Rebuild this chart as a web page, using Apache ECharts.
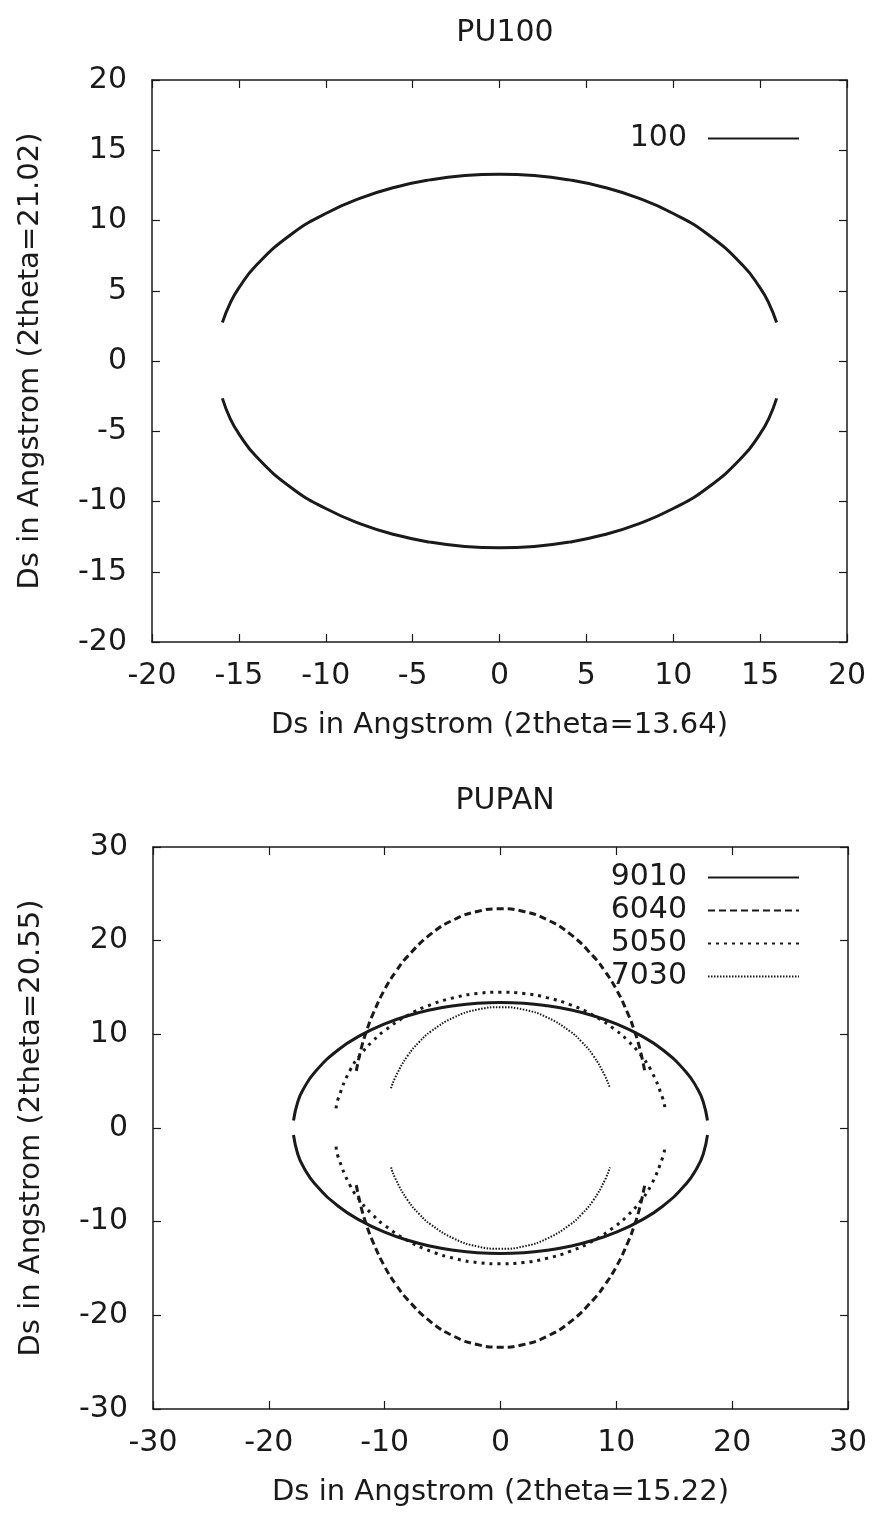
<!DOCTYPE html>
<html>
<head>
<meta charset="utf-8">
<script src="https://cdn.jsdelivr.net/npm/echarts@6/dist/echarts.min.js"></script>
<style>
  html, body { margin: 0; padding: 0; background: #fff; }
  #chart { width: 875px; height: 1513px; }
</style>
</head>
<body>
<div id="chart"></div>
<script>
// PU100 (top plot)
const pu100X = [-15.95, -15.5, -15, -14, -12, -10, -8, -6, -4, -2, 0, 2, 4, 6, 8, 10, 12, 14, 15, 15.5, 15.95]
const pu100Upper = [2.74, 4.12, 5.2, 6.81, 9.0, 10.5, 11.59, 12.37, 12.89, 13.2, 13.3, 13.2, 12.89, 12.37, 11.59, 10.5, 9.0, 6.81, 5.2, 4.12, 2.74]
const pu100Lower = [-2.66, -4.1, -5.18, -6.8, -9.0, -10.5, -11.59, -12.37, -12.89, -13.2, -13.3, -13.2, -12.89, -12.37, -11.59, -10.5, -9.0, -6.8, -5.18, -4.1, -2.66]

// PUPAN (bottom plot)
const x9010 = [-17.87, -17.5, -17, -16, -14, -12, -10, -8, -6, -4, -2, 0, 2, 4, 6, 8, 10, 12, 14, 16, 17, 17.5, 17.87]
const up9010 = [0.8, 2.81, 4.19, 6.01, 8.35, 9.94, 11.11, 11.99, 12.62, 13.06, 13.32, 13.4, 13.32, 13.06, 12.62, 11.99, 11.11, 9.94, 8.35, 6.01, 4.19, 2.81, 0.8]
const lo9010 = [-0.75, -2.8, -4.18, -6.0, -8.35, -9.94, -11.11, -11.99, -12.62, -13.06, -13.32, -13.4, -13.32, -13.06, -12.62, -11.99, -11.11, -9.94, -8.35, -6.0, -4.18, -2.8, -0.75]

const x6040 = [-12.45, -12, -11.5, -11, -10, -9, -8, -6, -4, -2, 0, 2, 4, 6, 8, 9, 10, 11, 11.5, 12, 12.45]
const up6040 = [6.1, 8.6, 10.6, 12.2, 14.8, 16.76, 18.35, 20.72, 22.25, 23.12, 23.4, 23.12, 22.25, 20.72, 18.35, 16.76, 14.8, 12.2, 10.6, 8.6, 6.1]
const lo6040 = [-6.1, -8.6, -10.6, -12.2, -14.8, -16.76, -18.35, -20.72, -22.25, -23.12, -23.4, -23.12, -22.25, -20.72, -18.35, -16.76, -14.8, -12.2, -10.6, -8.6, -6.1]

const x5050 = [-14.2, -14, -13, -12, -11, -10, -8, -6, -4, -2, 0, 2, 4, 6, 8, 10, 11, 12, 13, 14, 14.2]
const up5050 = [2.1, 3.18, 6.14, 7.95, 9.31, 10.4, 12.04, 13.17, 13.92, 14.36, 14.5, 14.36, 13.92, 13.17, 12.04, 10.4, 9.31, 7.95, 6.14, 3.18, 2.1]
const lo5050 = [-2.0, -3.15, -6.1, -7.95, -9.31, -10.4, -12.04, -13.17, -13.92, -14.36, -14.5, -14.36, -13.92, -13.17, -12.04, -10.4, -9.31, -7.95, -6.1, -3.15, -2.0]

const x7030 = [-9.45, -9, -8, -7, -6, -4, -2, 0, 2, 4, 6, 7, 8, 9, 9.45]
const up7030 = [4.25, 5.62, 7.74, 9.21, 10.32, 11.82, 12.64, 12.9, 12.64, 11.82, 10.32, 9.21, 7.74, 5.62, 4.25]
const lo7030 = [-4.2, -5.6, -7.74, -9.21, -10.32, -11.82, -12.64, -12.9, -12.64, -11.82, -10.32, -9.21, -7.74, -5.6, -4.2]

const font = 'DejaVu Sans'
const ink = '#1a1a1a'

const pairs = (xs, ys) => xs.map((x, i) => [x, ys[i]])

function axis(dim, grid, pos, min, max, step, labels, name, gap) {
  return {
    type: 'value',
    gridIndex: grid,
    position: pos,
    min: min,
    max: max,
    interval: step,
    name: name,
    nameLocation: 'middle',
    nameGap: gap,
    nameTextStyle: { fontFamily: font, fontSize: 29, color: ink },
    axisLine: { show: true, onZero: false, lineStyle: { color: ink, width: 1.5 } },
    axisTick: { show: true, inside: true, length: 8, lineStyle: { color: ink, width: 1.2 } },
    axisLabel: {
      show: labels,
      fontFamily: font,
      fontSize: 30,
      color: ink,
      margin: dim === 'x' ? 19 : 25,
    },
    splitLine: { show: false },
  }
}

function curve(name, xs, ys, xi, yi, width, dash) {
  return {
    type: 'line',
    name: name,
    xAxisIndex: xi,
    yAxisIndex: yi,
    data: pairs(xs, ys),
    smooth: true,
    symbol: 'none',
    silent: true,
    lineStyle: { color: ink, width: width, type: dash },
    itemStyle: { color: ink },
  }
}

// gnuplot style key: label on the left, plain line sample on the right
const legendBase = {
  orient: 'vertical',
  align: 'right',
  right: 70,
  itemWidth: 91,
  itemHeight: 14,
  itemGap: 0,
  selectedMode: false,
  itemStyle: { opacity: 0 },
  textStyle: { fontFamily: font, fontSize: 30, color: ink, lineHeight: 33, padding: [0, 16, 0, 0] },
}

const dash6040 = [7, 4]
const dot5050 = [3, 5]
const dot7030 = [1.5, 1.5]

const chart = echarts.init(document.getElementById('chart'))
chart.setOption({
  backgroundColor: '#fff',
  animation: false,
  title: [
    { text: 'PU100', left: 500, top: 13, textAlign: 'center', textStyle: { fontFamily: font, fontSize: 30, fontWeight: 'normal', color: ink } },
    { text: 'PUPAN', left: 500, top: 781, textAlign: 'center', textStyle: { fontFamily: font, fontSize: 30, fontWeight: 'normal', color: ink } },
  ],
  legend: [
    Object.assign({}, legendBase, { top: 117, data: ['100'] }),
    Object.assign({}, legendBase, { top: 856, data: ['9010', '6040', '5050', '7030'] }),
  ],
  grid: [
    { left: 152, right: 28, top: 80, height: 562 },
    { left: 153, right: 27, top: 847, height: 562 },
  ],
  xAxis: [
    axis('x', 0, 'bottom', -20, 20, 5, true, 'Ds in Angstrom (2theta=13.64)', 69),
    axis('x', 0, 'top', -20, 20, 5, false, '', 0),
    axis('x', 1, 'bottom', -30, 30, 10, true, 'Ds in Angstrom (2theta=15.22)', 69),
    axis('x', 1, 'top', -30, 30, 10, false, '', 0),
  ],
  yAxis: [
    axis('y', 0, 'left', -20, 20, 5, true, 'Ds in Angstrom (2theta=21.02)', 107),
    axis('y', 0, 'right', -20, 20, 5, false, '', 0),
    axis('y', 1, 'left', -30, 30, 10, true, 'Ds in Angstrom (2theta=20.55)', 107),
    axis('y', 1, 'right', -30, 30, 10, false, '', 0),
  ],
  series: [
    curve('100', pu100X, pu100Upper, 0, 0, 3, 'solid'),
    curve('100', pu100X, pu100Lower, 0, 0, 3, 'solid'),
    curve('9010', x9010, up9010, 2, 2, 3, 'solid'),
    curve('9010', x9010, lo9010, 2, 2, 3, 'solid'),
    curve('6040', x6040, up6040, 2, 2, 3, dash6040),
    curve('6040', x6040, lo6040, 2, 2, 3, dash6040),
    curve('5050', x5050, up5050, 2, 2, 3, dot5050),
    curve('5050', x5050, lo5050, 2, 2, 3, dot5050),
    curve('7030', x7030, up7030, 2, 2, 2, dot7030),
    curve('7030', x7030, lo7030, 2, 2, 2, dot7030),
  ],
})
</script>
</body>
</html>
